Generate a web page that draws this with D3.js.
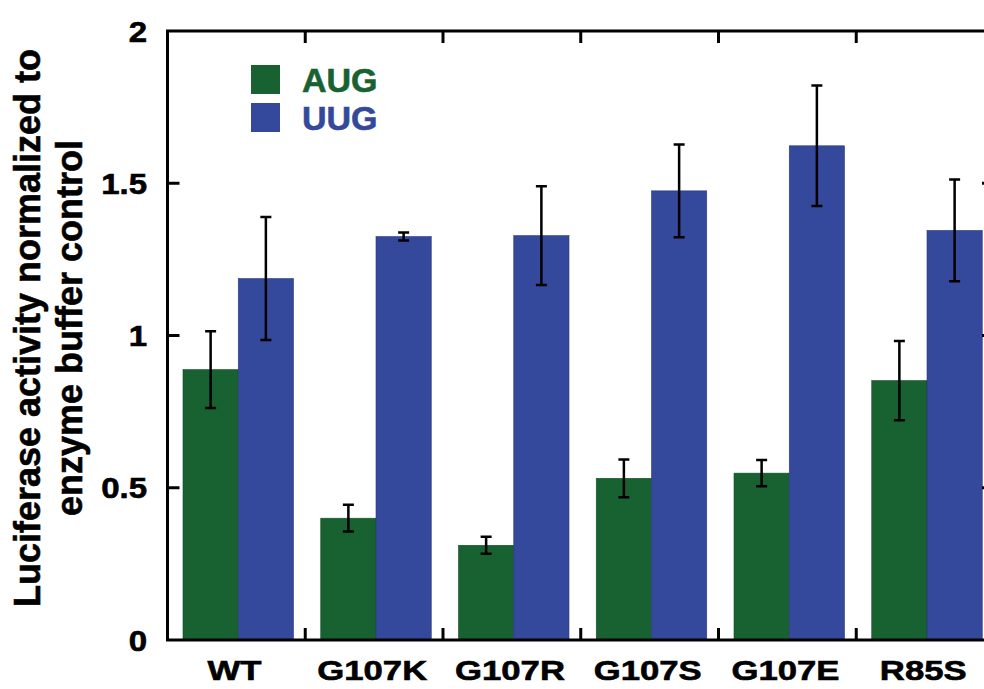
<!DOCTYPE html>
<html>
<head>
<meta charset="utf-8">
<title>Luciferase activity</title>
<script src="https://cdn.jsdelivr.net/npm/d3@7"></script>
<style>
    body { margin: 0; background: #fff; }
    svg { display: block; }
    text { font-family: "Liberation Sans", Arial, Helvetica, sans-serif; font-weight: bold; }
    .frame { fill: none; stroke: #000; stroke-width: 3px; }
    .tick-line { stroke: #000; stroke-width: 3px; }
    .err { stroke: #000; stroke-width: 2.5px; fill: none; }
    .heavy { stroke: #000; stroke-width: 0.6px; }
</style>
</head>
<body>
<script>
    // data
    var categories = ["WT", "G107K", "G107R", "G107S", "G107E", "R85S"];
    var series = ["AUG", "UUG"];
    var augValues = [0.888, 0.400, 0.311, 0.531, 0.548, 0.852];
    var augErrors = [0.126, 0.044, 0.028, 0.062, 0.043, 0.130];
    var uugValues = [1.187, 1.325, 1.328, 1.475, 1.623, 1.345];
    var uugErrors = [0.202, 0.013, 0.162, 0.152, 0.198, 0.167];
    var yTicks = [0, 0.5, 1, 1.5, 2];
    var yTickLabels = ["0", "0.5", "1", "1.5", "2"];
    var colors = { AUG: "#186232", UUG: "#34489c" };

    var width = 984, height = 689;
    var plotLeft = 167.5, plotTop = 31, plotBottom = 640;
    var groupW = 137.75;
    var plotRight = plotLeft + groupW * categories.length;

    var svg = d3.select("body").append("svg")
        .attr("width", width)
        .attr("height", height);

    svg.append("rect").attr("width", width).attr("height", height).attr("fill", "#fff");

    var x = d3.scaleBand().domain(categories).range([plotLeft, plotRight]).padding(0);
    var xs = d3.scaleBand().domain(series).range([15.5, 126]).padding(0);
    var y = d3.scaleLinear().domain([0, 2]).range([plotBottom, plotTop]);

    var rows = [];
    categories.forEach(function (c, i) {
        rows.push({ cat: c, s: "AUG", v: augValues[i], e: augErrors[i] });
        rows.push({ cat: c, s: "UUG", v: uugValues[i], e: uugErrors[i] });
    });

    // bars
    svg.selectAll(".bar")
        .data(rows)
        .enter().append("rect")
        .attr("class", "bar")
        .attr("x", function (d) { return x(d.cat) + xs(d.s); })
        .attr("width", xs.bandwidth())
        .attr("y", function (d) { return y(d.v); })
        .attr("height", function (d) { return y(0) - y(d.v); })
        .attr("fill", function (d) { return colors[d.s]; })
        .attr("stroke", function (d) { return d3.color(colors[d.s]).darker(0.6); })
        .attr("stroke-width", 0.6);

    // error bars
    var cap = 5.5;
    var eb = svg.selectAll(".errbar")
        .data(rows)
        .enter().append("g")
        .attr("class", "errbar")
        .attr("transform", function (d) { return "translate(" + (x(d.cat) + xs(d.s) + xs.bandwidth() / 2) + ",0)"; });
    eb.append("path")
        .attr("class", "err")
        .attr("d", function (d) {
            var y1 = y(d.v + d.e), y2 = y(d.v - d.e);
            return "M0," + y1 + "V" + y2 +
                "M" + (-cap) + "," + y1 + "H" + cap +
                "M" + (-cap) + "," + y2 + "H" + cap;
        });

    // frame
    svg.append("rect")
        .attr("class", "frame")
        .attr("x", plotLeft).attr("y", plotTop)
        .attr("width", plotRight - plotLeft).attr("height", plotBottom - plotTop);

    // inward ticks on y (left and right)
    var tickLen = 12;
    yTicks.slice(1, -1).forEach(function (t) {
        svg.append("line").attr("class", "tick-line")
            .attr("x1", plotLeft).attr("x2", plotLeft + tickLen)
            .attr("y1", y(t)).attr("y2", y(t));
        svg.append("line").attr("class", "tick-line")
            .attr("x1", plotRight - tickLen).attr("x2", plotRight)
            .attr("y1", y(t)).attr("y2", y(t));
    });

    // inward ticks between groups, top and bottom
    categories.slice(1).forEach(function (c) {
        var xx = x(c);
        svg.append("line").attr("class", "tick-line")
            .attr("x1", xx).attr("x2", xx)
            .attr("y1", plotTop).attr("y2", plotTop + tickLen);
        svg.append("line").attr("class", "tick-line")
            .attr("x1", xx).attr("x2", xx)
            .attr("y1", plotBottom).attr("y2", plotBottom - tickLen);
    });

    // y tick labels
    svg.selectAll(".ylab")
        .data(yTicks)
        .enter().append("text")
        .attr("class", "ylab heavy")
        .attr("text-anchor", "end")
        .attr("font-size", 30)
        .attr("transform", function (d) { return "translate(147," + (y(d) + 10.5) + ") scale(1.1,1)"; })
        .text(function (d, i) { return yTickLabels[i]; });

    // x category labels
    svg.selectAll(".xlab")
        .data(categories)
        .enter().append("text")
        .attr("class", "xlab heavy")
        .attr("text-anchor", "middle")
        .attr("font-size", 28)
        .attr("transform", function (d) {
            return "translate(" + (x(d) + 67) + ",680) scale(1.24,1)";
        })
        .text(function (d) { return d; });

    // y axis title
    var title = svg.append("text")
        .attr("class", "heavy")
        .attr("text-anchor", "middle")
        .attr("font-size", 36)
        .attr("transform", "translate(0,328) rotate(-90)");
    title.append("tspan").attr("x", 0).attr("y", 40).text("Luciferase activity normalized to");
    title.append("tspan").attr("x", 0).attr("y", 82).text("enzyme buffer control");

    // legend
    var legend = svg.selectAll(".legend")
        .data(series)
        .enter().append("g")
        .attr("class", "legend")
        .attr("transform", function (d, i) { return "translate(251," + (65 + i * 38) + ")"; });
    legend.append("rect")
        .attr("width", 29).attr("height", 29)
        .attr("fill", function (d) { return colors[d]; });
    legend.append("text")
        .attr("x", 51).attr("y", 27)
        .attr("font-size", 34)
        .attr("fill", function (d) { return colors[d]; })
        .attr("stroke", function (d) { return colors[d]; })
        .attr("stroke-width", 0.6)
        .text(function (d) { return d; });
</script>
</body>
</html>
